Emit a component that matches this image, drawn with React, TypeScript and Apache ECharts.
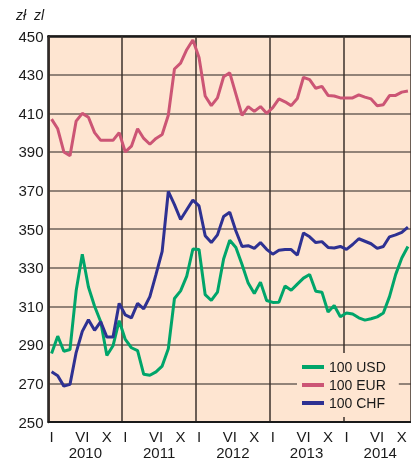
import React, { useEffect, useRef } from 'react';
import * as echarts from 'echarts';

const years = ['2010', '2011', '2012', '2013', '2014'];
const romanMonths = ['I', 'II', 'III', 'IV', 'V', 'VI', 'VII', 'VIII', 'IX', 'X', 'XI', 'XII'];
const shownMonths = ['I', 'VI', 'X'];
const monthCount = 59;
const yMin = 250;
const yMax = 450;
const yStep = 20;

const usd = [
  285.5, 294.5, 286.7, 287.6, 318, 337, 320, 310, 302, 284.5, 289.5, 302.5,
  292.8, 288.5, 287, 274.7, 274.2, 276, 279, 288, 314, 318, 325.6, 339.7,
  339.4, 316, 313, 317.3, 334.5, 344.2, 340.5, 331.6, 322, 316.6, 322.5, 313,
  312, 312.1, 320.5, 318.3, 321.5, 324.6, 326.5, 317.8, 317.3, 307, 310.4, 304.6,
  306.5, 306, 304, 302.8, 303.5, 304.5, 306.5, 315, 326.4, 335, 341,
];
const eur = [
  407, 402, 390, 388, 406, 410, 408, 400, 396, 396, 396, 400,
  390, 393, 402, 397, 394, 397, 399, 409, 433, 436, 443, 448,
  439, 419, 414, 418, 429, 431, 420, 409, 413.5, 411, 413.5, 410,
  413, 417.5, 416, 414, 417.7, 428.7, 427.5, 423, 424, 419.3, 419, 418,
  418, 418, 419.6, 418.4, 417.5, 414, 414.5, 419.2, 419.3, 421, 421.6,
];
const chf = [
  276, 274, 268.6, 269.5, 286, 297, 303, 297.5, 302, 294, 294, 311.5,
  305.5, 304, 311.5, 308.7, 315, 326.5, 338.5, 369.5, 362.7, 355, 360, 365,
  362, 346.6, 343, 347, 356.5, 358.7, 349, 341, 341.4, 340, 343, 339.5,
  337, 339, 339.4, 339.4, 336.5, 348, 346, 343, 343.5, 340.5, 340.2, 341,
  339.5, 342, 345, 343.7, 342.4, 340, 341, 346, 347, 348.3, 351,
];

const seriesNames = ['100 USD', '100 EUR', '100 CHF'];
const seriesColors = ['#00a56a', '#cc5575', '#2e3192'];
const seriesData = [usd, eur, chf];

const categories = Array.from(
  { length: monthCount },
  (_, i) => `${romanMonths[i % 12]} ${years[Math.floor(i / 12)]}`
);

const FONT = "'Liberation Sans Narrow', 'Arial Narrow', 'Liberation Sans', Arial, sans-serif";
const INK = '#1a1a1a';
const BG = '#fee5d1';

export default function App() {
  const ref = useRef<HTMLDivElement>(null);
  useEffect(() => {
    if (!ref.current) return;
    const chart = echarts.init(ref.current, undefined, { renderer: 'svg' });
    chart.setOption({
      animation: false,
      grid: {
        left: 48.5,
        right: -6.2,
        top: 36.2,
        bottom: 37.3,
        show: true,
        backgroundColor: BG,
        borderWidth: 0,
      },
      graphic: [
        {
          type: 'text',
          left: 16,
          top: 8,
          style: {
            text: 'zł  zl',
            font: `italic 14px ${FONT}`,
            fill: INK,
          },
        },
      ],
      legend: {
        orient: 'vertical',
        left: 297,
        top: 353,
        backgroundColor: BG,
        padding: [7, 13, 7, 5],
        itemWidth: 22,
        itemHeight: 4,
        itemGap: 4,
        icon: 'rect',
        data: seriesNames,
        textStyle: { fontSize: 14, fontFamily: FONT, color: INK, lineHeight: 14 },
      },
      xAxis: [
        {
          type: 'category',
          data: categories,
          boundaryGap: true,
          position: 'bottom',
          axisLine: { show: true, lineStyle: { color: INK, width: 2 } },
          axisTick: { show: false },
          axisLabel: {
            interval: 0,
            margin: 7,
            fontSize: 15,
            fontFamily: FONT,
            color: INK,
            formatter: (v: string) => {
              const m = v.split(' ')[0];
              return shownMonths.includes(m) ? m : '';
            },
          },
          splitLine: {
            show: true,
            interval: (i: number) => i % 12 === 0,
            lineStyle: { color: '#3b302b', width: 1.5 },
          },
          z: 1,
        },
        {
          type: 'value',
          min: 0,
          max: monthCount,
          interval: 6,
          position: 'bottom',
          axisLine: { show: false },
          axisTick: { show: false },
          splitLine: { show: false },
          axisLabel: {
            margin: 23,
            fontSize: 15,
            fontFamily: FONT,
            color: INK,
            showMaxLabel: false,
            formatter: (v: number) => (v % 12 === 6 ? years[(v - 6) / 12] : ''),
          },
        },
        {
          type: 'category',
          data: categories,
          position: 'top',
          axisLine: { show: true, lineStyle: { color: INK, width: 2.5 } },
          axisTick: { show: false },
          axisLabel: { show: false },
          splitLine: { show: false },
        },
      ],
      yAxis: {
        type: 'value',
        min: yMin,
        max: yMax,
        interval: yStep,
        axisLine: { show: true, lineStyle: { color: INK, width: 2.5 } },
        axisTick: { show: false },
        axisLabel: { margin: 5, fontSize: 15, fontFamily: FONT, color: INK },
        splitLine: { show: true, lineStyle: { color: '#6e625a', width: 1.5 } },
      },
      series: seriesNames.map((name, k) => ({
        name,
        type: 'line',
        xAxisIndex: 0,
        data: seriesData[k],
        showSymbol: false,
        symbol: 'none',
        color: seriesColors[k],
        lineStyle: { width: 3, color: seriesColors[k] },
      })),
    });
    return () => chart.dispose();
  }, []);
  return (
    <div
      ref={ref}
      style={{ position: 'fixed', left: 0, top: 0, width: 411, height: 460 }}
    />
  );
}
